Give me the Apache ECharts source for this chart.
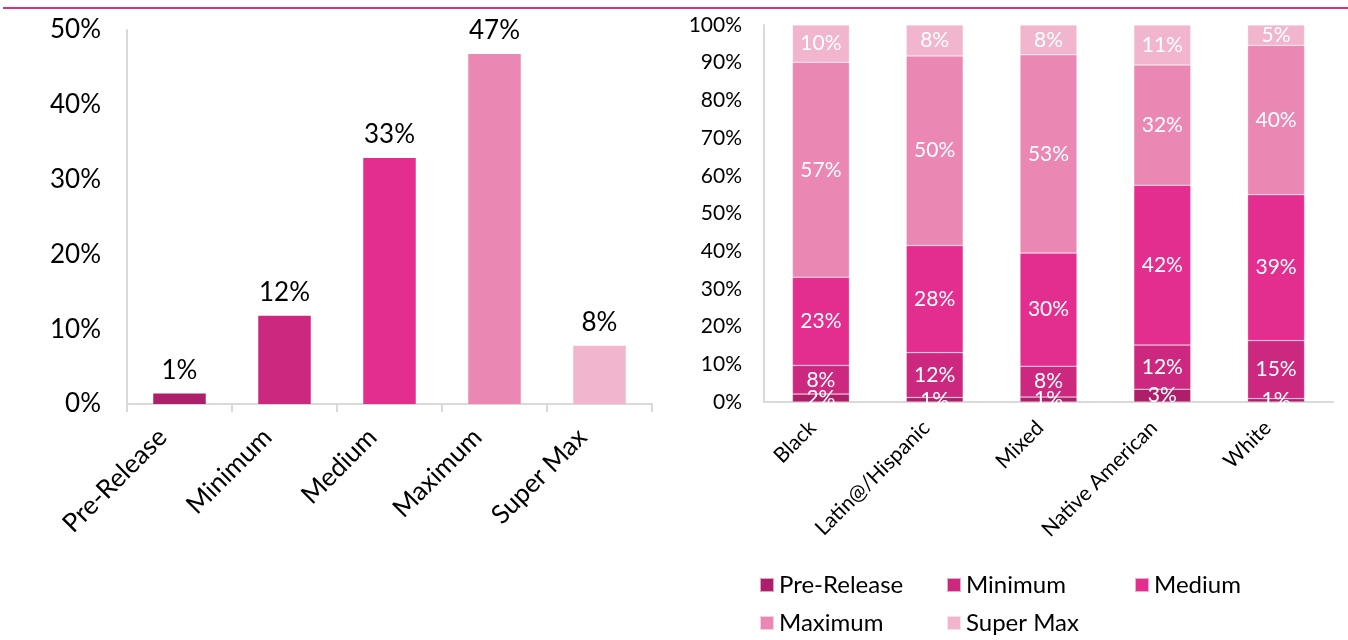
<!DOCTYPE html>
<html><head><meta charset="utf-8">
<script src="https://cdn.jsdelivr.net/npm/echarts@6/dist/echarts.min.js"></script>
<style>html,body{margin:0;padding:0;background:#fff}#c{width:1348px;height:640px}</style>
</head><body><div id="c"></div>
<script>
const levels = ['Pre-Release','Minimum','Medium','Maximum','Super Max'];
const levelColors = ['#AD1F6B','#CC2880','#E32D8F','#EA88B3','#F1B6CD'];
const overallValues = [1.4, 11.8, 32.9, 46.8, 7.8];
const groups = ['Black','Latin@/Hispanic','Mixed','Native American','White'];
const preRelease = [2.1, 1.2, 1.3, 3.4, 0.9];
const minimum    = [7.6, 11.9, 8.2, 11.7, 15.4];
const medium     = [23.4, 28.4, 30.0, 42.4, 38.7];
const maximum    = [57.0, 50.3, 52.6, 31.9, 39.6];
const superMax   = [9.9, 8.2, 7.9, 10.6, 5.4];
const stackData = [preRelease, minimum, medium, maximum, superMax];

const FONT = 'Lato';
const chart = echarts.init(document.getElementById('c'));
const pct = v => Math.round(v) + '%';
const legendPos = [[759,585],[946,585],[1134,585],[759,623],[946,623]];
const option = {
  animation:false,
  textStyle:{fontFamily:FONT},
  graphic:[{type:'line',shape:{x1:3,y1:8,x2:1348,y2:8},style:{stroke:'#DA2F83',lineWidth:2}}],
  grid:[
    {left:127,right:696,top:30,bottom:236},
    {left:764,right:15,top:25,bottom:238}
  ],
  legend: levels.map((l,i)=>({
    data:[l], left:legendPos[i][0]-5, top:legendPos[i][1]-12-5, itemWidth:14, itemHeight:14, itemGap:8,
    padding:5, icon:'rect', textStyle:{fontSize:24,color:'#000',fontFamily:FONT}, selectedMode:false
  })),
  xAxis:[
    {type:'category',gridIndex:0,data:levels,
     axisLine:{lineStyle:{color:'#D9D9D9',width:2}},
     axisTick:{show:true,length:8,lineStyle:{color:'#D9D9D9',width:2}},
     axisLabel:{rotate:45,fontSize:26,color:'#000',margin:12,interval:0,padding:[0,24,0,0]}},
    {type:'category',gridIndex:1,data:groups,
     axisLine:{lineStyle:{color:'#D9D9D9',width:2}},
     axisTick:{show:false},
     axisLabel:{rotate:45,fontSize:21,color:'#000',margin:14,interval:0,padding:[0,12,0,0]}}
  ],
  yAxis:[
    {type:'value',gridIndex:0,min:0,max:50,interval:10,
     axisLine:{show:true,lineStyle:{color:'#D9D9D9',width:2}},
     splitLine:{show:false},axisTick:{show:false},
     axisLabel:{fontSize:26,color:'#000',margin:26,formatter:v=>v+'%'}},
    {type:'value',gridIndex:1,min:0,max:100,interval:10,
     axisLine:{show:true,lineStyle:{color:'#D9D9D9',width:2}},
     splitLine:{show:false},axisTick:{show:false},
     axisLabel:{fontSize:21,color:'#000',margin:22,formatter:v=>v+'%'}}
  ],
  series:[
    {type:'bar',xAxisIndex:0,yAxisIndex:0,barWidth:'50%',
     data:overallValues.map((v,i)=>({value:v,itemStyle:{color:levelColors[i]}})),
     label:{show:true,position:'top',distance:10,fontSize:26,color:'#000',formatter:p=>pct(p.value)}}
  ].concat(levels.map((l,i)=>({
     type:'bar',name:l,xAxisIndex:1,yAxisIndex:1,stack:'s',barWidth:'50%',
     itemStyle:{color:levelColors[i],borderColor:'rgba(255,255,255,0.6)',borderWidth:0.5},
     data:stackData[i],
     label:{show:true,position:'inside',fontSize:21,color:'#fff',formatter:p=>pct(p.value)}
  })))
};
chart.setOption(option);
</script></body></html>
